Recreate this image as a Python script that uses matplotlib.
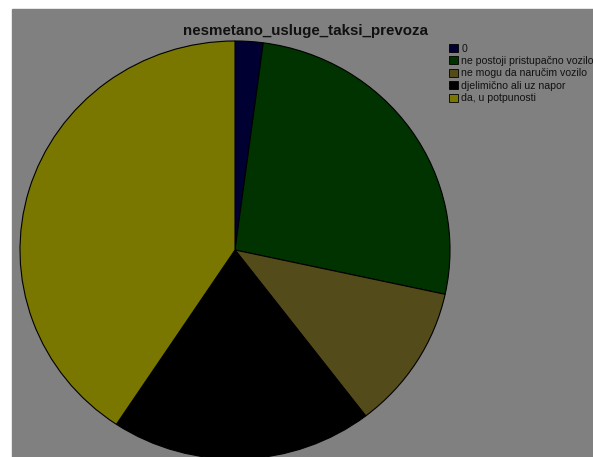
import matplotlib.pyplot as plt
from matplotlib.patches import Rectangle, Patch

# data (share of answers, %)
labels = ["0", "ne postoji pristupačno vozilo", "ne mogu da naručim vozilo",
          "djelimično ali uz napor", "da, u potpunosti"]
shares = [2.1, 26.3, 11.2, 19.7, 40.7]
colors = ["#000033", "#003300", "#534c1a", "#000000", "#7a7700"]

W, H = 593, 457
fig = plt.figure(figsize=(W / 100, H / 100), dpi=100)
fig.patch.set_facecolor("white")

# gray panel
fig.add_artist(Rectangle((12 / W, 0), (W - 12) / W, (H - 9) / H,
                         transform=fig.transFigure, color="#808080", zorder=0))

ax = fig.add_axes([12 / W, 0, (W - 12) / W, (H - 9) / H])
ax.pie(shares, colors=colors, startangle=90, counterclock=False,
       wedgeprops=dict(edgecolor="black", linewidth=0.8))
ax.set_aspect("auto")
# center at pixel (235, 250), radius 215 px wide, 209 px tall
cx, cy, rx, ry = 235, 250, 215, 209
ax.set_xlim(-(cx - 12) / rx, (W - cx) / rx)
ax.set_ylim(-(H - cy) / ry, (cy - 9) / ry)
ax.set_xticks([])
ax.set_yticks([])
ax.set_frame_on(False)

fig.text(305 / W, 1 - 35 / H, "nesmetano_usluge_taksi_prevoza",
         ha="center", va="baseline", fontsize=10.9, fontweight="bold",
         family="Liberation Sans", color="#111111")

handles = [Patch(facecolor=c, edgecolor="black", linewidth=0.6) for c in colors]
leg = fig.legend(handles, labels, loc="upper left",
                 bbox_to_anchor=(449 / W, 1 - 43.5 / H), frameon=False,
                 prop={"family": "Liberation Sans", "size": 7.6},
                 handlelength=0.85, handleheight=0.8, handletextpad=0.3,
                 labelspacing=0.23, borderpad=0, borderaxespad=0)
for t in leg.get_texts():
    t.set_color("#111111")

fig.savefig("out.png", dpi=100)
